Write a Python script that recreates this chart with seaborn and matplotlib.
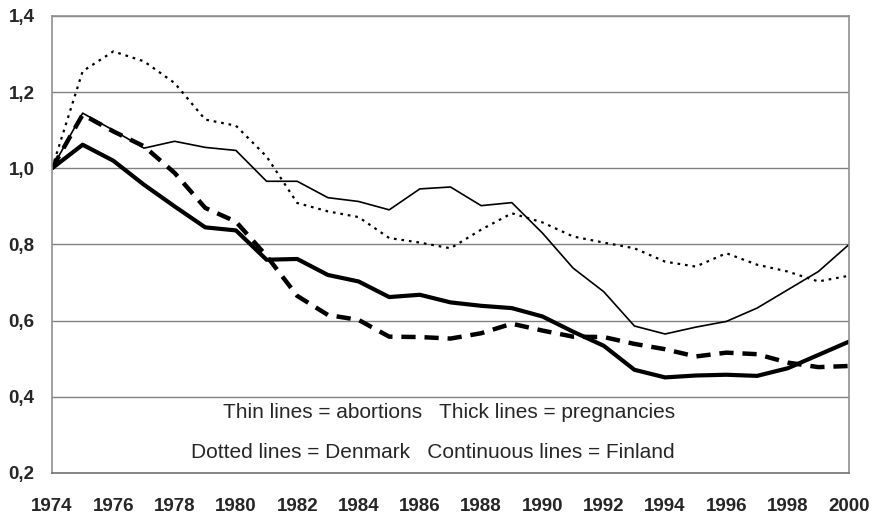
import numpy as np
import pandas as pd
import matplotlib
matplotlib.use("Agg")
import matplotlib.pyplot as plt
import seaborn as sns

# Relative rates (1974 = 1.0)
years = list(range(1974, 2001))

fin_abortions = [1.00, 1.145, 1.10, 1.053, 1.071, 1.055, 1.047, 0.966, 0.966, 0.923,
                 0.913, 0.891, 0.946, 0.951, 0.902, 0.910, 0.830, 0.738, 0.676, 0.586,
                 0.565, 0.583, 0.598, 0.633, 0.681, 0.729, 0.800]
den_abortions = [1.00, 1.255, 1.307, 1.281, 1.224, 1.128, 1.112, 1.031, 0.909, 0.887,
                 0.872, 0.817, 0.805, 0.790, 0.839, 0.882, 0.858, 0.821, 0.805, 0.790,
                 0.755, 0.742, 0.777, 0.747, 0.729, 0.703, 0.718]
fin_pregnancies = [1.00, 1.062, 1.020, 0.957, 0.900, 0.845, 0.837, 0.760, 0.762, 0.720,
                   0.703, 0.662, 0.668, 0.648, 0.639, 0.633, 0.611, 0.571, 0.534, 0.471,
                   0.451, 0.456, 0.458, 0.455, 0.475, 0.510, 0.545]
den_pregnancies = [1.00, 1.141, 1.097, 1.058, 0.988, 0.896, 0.860, 0.770, 0.665, 0.615,
                   0.602, 0.558, 0.557, 0.553, 0.567, 0.592, 0.574, 0.558, 0.557, 0.539,
                   0.525, 0.506, 0.516, 0.512, 0.490, 0.478, 0.481]

x_tick_labels = [str(y) if y % 2 == 0 else "" for y in years]
y_ticks = [0.2, 0.4, 0.6, 0.8, 1.0, 1.2, 1.4]
y_tick_labels = ["0,2", "0,4", "0,6", "0,8", "1,0", "1,2", "1,4"]

note_line1 = "Thin lines = abortions   Thick lines = pregnancies"
note_line2 = "Dotted lines = Denmark   Continuous lines = Finland"

sns.set_style("white")
plt.rcParams['font.family'] = ['Liberation Sans', 'DejaVu Sans']

fig = plt.figure(figsize=(8.72, 5.16), dpi=100)
ax = fig.add_axes([52 / 872, 1 - 473 / 516, 797 / 872, 457 / 516])

# Horizontal gridlines first, so the curves sit above them
for v in y_ticks[1:]:
    ax.axhline(v, color="#808080", lw=1.0, zorder=0)

df = pd.DataFrame({"year": years, "fa": fin_abortions, "da": den_abortions,
                   "fp": fin_pregnancies, "dp": den_pregnancies})

sns.lineplot(data=df, x="year", y="fa", ax=ax, color="black", lw=1.2)
sns.lineplot(data=df, x="year", y="da", ax=ax, color="black", lw=1.6,
             linestyle=(0, (1.2, 2.2)))
sns.lineplot(data=df, x="year", y="fp", ax=ax, color="black", lw=3.0)
sns.lineplot(data=df, x="year", y="dp", ax=ax, color="black", lw=3.2,
             linestyle=(0, (3.2, 2.0)))

ax.set_xlim(1974, 2000)
ax.set_ylim(0.2, 1.4)
ax.set_xticks(years)
ax.set_xticklabels(x_tick_labels, fontsize=13.5, fontweight="bold")
ax.set_yticks(y_ticks)
ax.set_yticklabels(y_tick_labels, fontsize=13.5, fontweight="bold")
ax.set_xlabel("")
ax.set_ylabel("")

ax.tick_params(axis="x", direction="out", length=5, width=1, color="#808080", pad=13)
ax.tick_params(axis="y", direction="out", length=4, width=1, color="#808080", pad=8.5)

for side in ["left", "right", "top", "bottom"]:
    ax.spines[side].set_visible(True)
    ax.spines[side].set_color("#909090")
    ax.spines[side].set_linewidth(1.2)
ax.spines["bottom"].set_color("#707070")

ax.text(0.7817, 0.358, note_line1, transform=ax.get_yaxis_transform(),
        ha="right", va="center", fontsize=15)
ax.text(0.7817, 0.255, note_line2, transform=ax.get_yaxis_transform(),
        ha="right", va="center", fontsize=15)

fig.savefig("out.png", dpi=100)
